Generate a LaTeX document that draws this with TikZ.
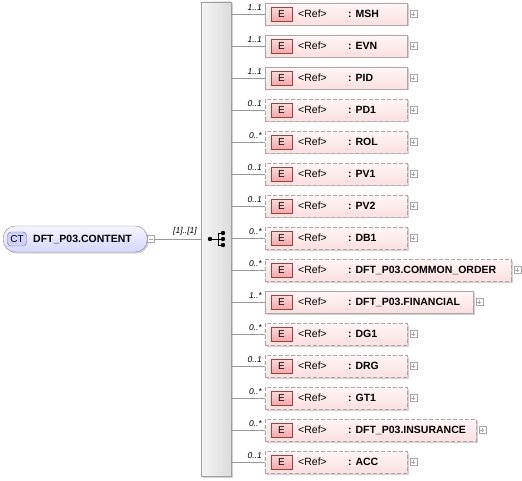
\documentclass[tikz,border=0pt]{standalone}
\usepackage{fontspec}
\setmainfont{Liberation Sans}
\usetikzlibrary{shadows}
\definecolor{elborder}{HTML}{A8A8A8}
\definecolor{eltop}{HTML}{FFF6F6}
\definecolor{elbot}{HTML}{FDE0E0}
\definecolor{eiconbd}{HTML}{A04040}
\definecolor{eicontop}{HTML}{FBD8D8}
\definecolor{eiconbot}{HTML}{F2A8A8}
\definecolor{bargray}{HTML}{A0A0A0}
\definecolor{ctbd}{HTML}{8888AA}
\tikzset{
  x=1pt, y=-1pt,
  font=\fontsize{10.5}{12}\selectfont,
  elbox/.style={draw=elborder, top color=eltop, bottom color=elbot, minimum height=22pt,
    inner sep=0pt, anchor=west, general shadow={shadow xshift=1.5pt, shadow yshift=-1.5pt, fill=black!18}},
  stsolid/.style={solid},
  stdashed/.style={dash pattern=on 4pt off 2pt},
  eicon/.style={draw=eiconbd, top color=eicontop, bottom color=eiconbot, minimum width=21pt,
    minimum height=14pt, inner sep=0pt, font=\fontsize{10}{11}\selectfont},
  plusbox/.style={draw=gray!70, fill=white, minimum size=7pt, inner sep=0pt},
  mult/.style={font=\fontsize{8.5}{9}\selectfont\itshape, anchor=south east, inner sep=1pt},
  conn/.style={draw=gray!80, line width=0.6pt},
}
\begin{document}
\begin{tikzpicture}
\useasboundingbox (0,0) rectangle (522,481);
% sequence bar
\node[draw=bargray, left color=gray!8, right color=gray!28, minimum width=30pt, minimum height=474pt,
  inner sep=0pt, general shadow={shadow xshift=1.5pt, shadow yshift=-1.5pt, fill=black!18}] (seq) at (216,239) {};
% sequence icon
\coordinate (s0) at (210,239);
\coordinate (s1) at (218,239);
\draw[line width=0.8pt] (s0) -- (s1) (218,233) -- (218,245)
  (218,233) -- (223,233) (218,239) -- (223,239) (218,245) -- (223,245);
\fill (s0) circle (2.2pt);
\foreach \yy in {233,239,245} \fill (223,\yy) circle (2.2pt);
% CT node
\node[draw=ctbd, rounded corners=12pt, top color=blue!4, bottom color=blue!16, minimum width=144pt,
  minimum height=26pt, inner sep=0pt, anchor=west,
  general shadow={shadow xshift=1.5pt, shadow yshift=-1.5pt, fill=black!18}] (ct) at (3,239) {};
\node[draw=ctbd!80!black, rounded corners=3.5pt, fill=blue!18, minimum width=19pt, minimum height=14pt,
  inner sep=0pt, font=\fontsize{10}{11}\selectfont] (cticon) at (17,239) {CT};
\node[anchor=west, inner sep=0pt, font=\fontsize{10.5}{12}\selectfont\bfseries] (ctname) at (33,239) {DFT\_P03.CONTENT};
\node[plusbox] (ctminus) at (151,239) {};
\draw[gray!70] (ctminus.center) ++(-2pt,0) -- ++(4pt,0);
\draw[conn] (ctminus.east) -- (seq.west |- ctminus.east);
\node[mult] (ctmult) at (198,236) {[1]..[1]};
% elements
\foreach \i/\nm/\w/\st/\m in {
  0/MSH/142/stsolid/1..1,
  1/EVN/142/stsolid/1..1,
  2/PID/142/stsolid/1..1,
  3/PD1/142/stdashed/0..1,
  4/ROL/142/stdashed/0..*,
  5/PV1/142/stdashed/0..1,
  6/PV2/142/stdashed/0..1,
  7/DB1/142/stdashed/0..*,
  8/DFT\_P03.COMMON\_ORDER/246/stdashed/0..*,
  9/DFT\_P03.FINANCIAL/208/stsolid/1..*,
  10/DG1/142/stdashed/0..*,
  11/DRG/142/stdashed/0..1,
  12/GT1/142/stdashed/0..*,
  13/DFT\_P03.INSURANCE/211/stdashed/0..*,
  14/ACC/142/stdashed/0..1}{
  \pgfmathsetmacro{\yc}{14+32*\i}
  \node[elbox, \st, minimum width=\w pt] (b\i) at (265,\yc) {};
  \node[eicon] (e\i) at (281.5,\yc+0.5) {E};
  \node[anchor=west, inner sep=0pt] (r\i) at (298,\yc) {<Ref>};
  \node[anchor=west, inner sep=0pt, font=\fontsize{10.5}{12}\selectfont\bfseries] (n\i) at (348,\yc) {: \nm};
  \node[plusbox] (p\i) at ([xshift=6pt]b\i.east) {};
  \draw[gray!70] (p\i.center) ++(-2pt,0) -- ++(4pt,0) (p\i.center) ++(0,-2pt) -- ++(0,4pt);
  \draw[conn] (seq.east |- b\i.west) -- (b\i.west);
  \node[mult] (m\i) at (263,\yc-2) {\m};
}
\end{tikzpicture}
\end{document}
